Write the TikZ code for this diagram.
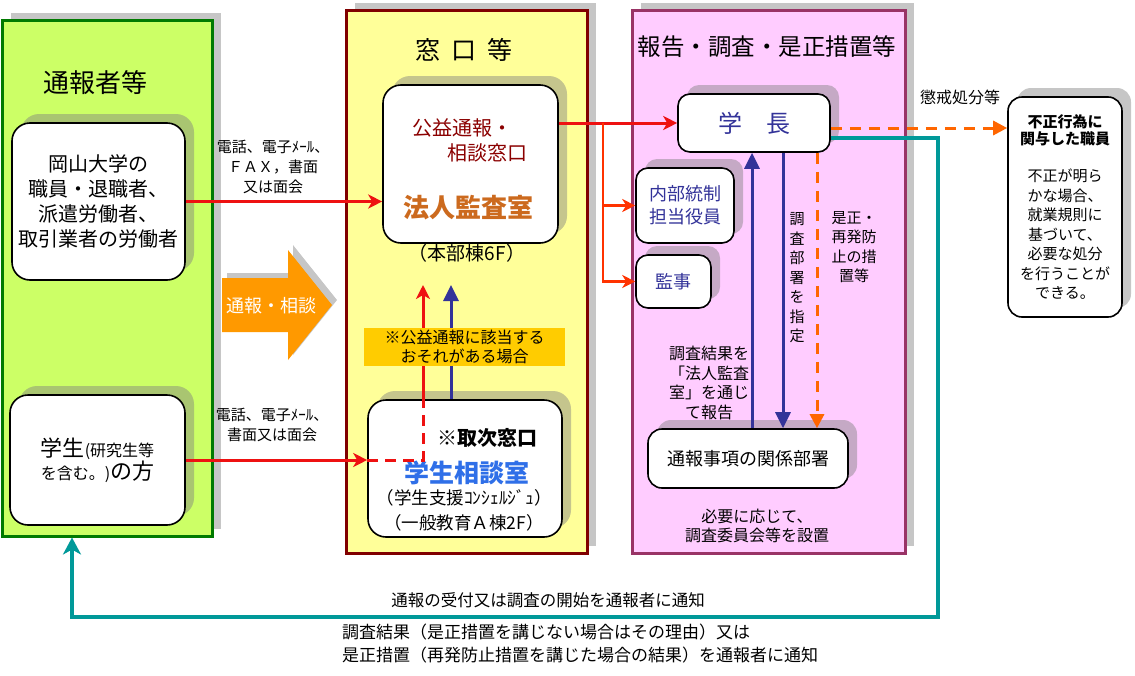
\documentclass[tikz,border=0pt]{standalone}
\usepackage{fontspec}
\setmainfont{Noto Sans CJK JP}
\usetikzlibrary{arrows.meta,positioning,calc,shadows}
\definecolor{panelgreen}{HTML}{CCFF66}
\definecolor{edgegreen}{HTML}{007A00}
\definecolor{panelyellow}{HTML}{FFFF99}
\definecolor{edgeyellow}{HTML}{800000}
\definecolor{panelpink}{HTML}{FFCCFF}
\definecolor{edgepink}{HTML}{993366}
\definecolor{inkblue}{HTML}{333399}
\definecolor{inkteal}{HTML}{009999}
\definecolor{inkorange}{HTML}{FF6600}
\definecolor{arroworange}{HTML}{FF9900}
\definecolor{bandgold}{HTML}{FFCC00}
\definecolor{inkred}{HTML}{EE1111}
\definecolor{inkscarlet}{HTML}{FF3300}
\definecolor{inkbrown}{HTML}{CC6A1E}
\definecolor{inkdarkred}{HTML}{8B0000}
\definecolor{inkstudent}{HTML}{2F6FE8}
\newcommand{\fsz}[2]{\fontsize{#1}{#2}\selectfont}
\tikzset{panel/.style={rectangle,draw,line width=3pt,inner sep=0pt,drop shadow={shadow xshift=9pt,shadow yshift=7pt,fill=gray,opacity=.45}},card/.style={rectangle,rounded corners=18pt,draw,line width=1.6pt,fill=white,inner sep=0pt,align=center,drop shadow={shadow xshift=9pt,shadow yshift=9pt,fill=gray,opacity=.45}},heading/.style={font=\fsz{25}{28}},note/.style={font=\fsz{15}{20},align=center,inner sep=0pt},redarrow/.style={draw=inkred,line width=3pt,-{Stealth[length=14pt,width=14pt,inset=4pt]}},branch/.style={draw=inkscarlet,line width=2.5pt,-{Stealth[length=13pt,width=13pt,inset=4pt]}},bluearrow/.style={draw=inkblue,line width=3pt,-{Triangle[length=16pt,width=15pt]}},orangedash/.style={draw=inkorange,line width=3pt,dash pattern=on 11pt off 8pt,-{Triangle[length=14pt,width=14pt]}},tealarrow/.style={draw=inkteal,line width=3.5pt,-{Stealth[length=17pt,width=18pt,inset=5pt]}}}

\begin{document}
\begin{tikzpicture}[x=1pt,y=-1pt]
\useasboundingbox (0,0) rectangle (1135,675);
% three columns
\node[panel,fill=panelgreen,draw=edgegreen,minimum width=210pt,minimum height=516pt] (p1) at (107,278) {};
\node[panel,fill=panelyellow,draw=edgeyellow,minimum width=241pt,minimum height=543pt] (p2) at (466.5,281.5) {};
\node[panel,fill=panelpink,draw=edgepink,minimum width=273pt,minimum height=543pt] (p3) at (768.5,281.5) {};
\node[heading,font=\fsz{26}{30}] (t1) at (95,83) {通報者等};
\node[heading] (t2) at (464,50) {窓\hspace{.45em}口\hspace{.45em}等};
\node[heading,font=\fsz{23.5}{28}] (t3) at (767,47) {報告・調査・是正措置等};
% reporters
\node[card,minimum width=173pt,minimum height=157pt,font=\fsz{20}{25}] (a1) at (98.5,201.5) {岡山大学の\\職員・退職者、\\派遣労働者、\\取引業者の労働者};
\node[card,minimum width=175pt,minimum height=130pt] (a2) at (97.5,460) {{\fsz{22}{27}学生}{\fsz{16}{27}(研究生等}\\{\fsz{16}{27}を含む。)}{\fsz{22}{27}の方}};
\fill[arroworange,drop shadow={shadow xshift=5pt,shadow yshift=5pt,fill=gray,opacity=.45}] (222,278) -- (288,278) -- (288,250) -- (332,305) -- (288,360) -- (288,332) -- (222,332) -- cycle;
\node[font=\fsz{18}{20},text=white] (sodan) at (271,306) {通報・相談};
% windows
\node[card,minimum width=175pt,minimum height=158pt] (b1) at (470.5,164) {};
\node[font=\fsz{20}{25},text=inkdarkred,align=left] (b1a) at (470,140) {公益通報・\\\hspace*{1.75em}相談窓口};
\node[font=\fsz{26}{30}\bfseries,text=inkbrown] (b1b) at (468,208) {法人監査室};
\node[font=\fsz{19}{22}] (b1c) at (467,253) {（本部棟6F）};
\node[card,minimum width=194pt,minimum height=137pt] (b2) at (465,468.5) {};
\node[font=\fsz{20}{24}\bfseries] (b2a) at (487,438) {※取次窓口};
\node[font=\fsz{25}{28}\bfseries,text=inkstudent] (b2b) at (467,473) {学生相談室};
\node[font=\fsz{17.5}{25},align=center] (b2c) at (464,510) {（学生支援ｺﾝｼｪﾙｼﾞｭ）\\（一般教育Ａ棟2F）};
% report, investigation
\node[card,rounded corners=12pt,minimum width=152pt,minimum height=58pt,font=\fsz{24}{28},text=inkblue] (c1) at (754,123) {学\hspace{1em}長};
\node[card,rounded corners=12pt,minimum width=98pt,minimum height=75pt,font=\fsz{18}{23},text=inkblue] (c2) at (685,205.5) {内部統制\\担当役員};
\node[card,rounded corners=12pt,minimum width=75pt,minimum height=53pt,font=\fsz{18}{23},text=inkblue] (c3) at (673.5,281.5) {監事};
\node[card,rounded corners=14pt,minimum width=200pt,minimum height=59pt,font=\fsz{18}{22}] (c4) at (748,458.5) {通報事項の関係部署};
\node[card,rounded corners=14pt,minimum width=114pt,minimum height=220pt,font=\fsz{15}{19.5}] (d) at (1065,207) {\textbf{不正行為に}\\[-2.5pt]\textbf{関与した職員}\\[18pt]不正が明ら\\かな場合、\\就業規則に\\基づいて、\\必要な処分\\を行うことが\\できる。};
% reporting routes
\draw[redarrow] (a1.east) -- (a1.east -| b1.west);
\node[note] (l1) at (273,167) {電話、電子ﾒｰﾙ、\\ＦＡＸ，書面\\又は面会};
\draw[redarrow] (a2.east) -- (a2.east -| b2.west);
\node[note] (l2) at (272,425) {電話、電子ﾒｰﾙ、\\書面又は面会};
\coordinate (r1) at (423,285);
\coordinate (u1) at (451,285);
\draw[draw=inkred,line width=3pt,dash pattern=on 11pt off 7pt] (a2.east -| b2.west) -| (r1 |- b2.north);
\draw[redarrow] (r1 |- b2.north) -- (r1);
\draw[bluearrow] (u1 |- b2.north) -- (u1);
\node[fill=bandgold,minimum width=201pt,minimum height=38pt,inner sep=0pt,font=\fsz{16}{19},align=center] (band) at (464.5,347) {※公益通報に該当する\\おそれがある場合};
\draw[redarrow] (b1.east |- c1.west) -- (c1.west);
\coordinate (br) at (603,123);
\foreach \t in {c2,c3}{\draw[branch] (br) |- (\t.west);}
% inside the investigation column
\coordinate (q1) at ([xshift=4pt]c4.north);
\coordinate (q2) at ([xshift=35pt]c4.north);
\coordinate (q3) at ([xshift=69pt]c4.north);
\draw[bluearrow] (q1) -- (q1 |- c1.south);
\draw[bluearrow] (q2 |- c1.south) -- (q2);
\draw[orangedash] (q3 |- c1.south) -- (q3);
\node[note,font=\fsz{15}{19.5}] (v1) at (797,278) {調\\査\\部\\署\\を\\指\\定};
\node[note,font=\fsz{15}{19.5}] (v2) at (854,247) {是正・\\再発防\\止の措\\置等};
\node[note,font=\fsz{16}{19.5}] (v3) at (709,383) {調査結果を\\「法人監査\\室」を通じ\\て報告};
\node[note,font=\fsz{16}{19}] (v4) at (757,526) {必要に応じて、\\調査委員会等を設置};
% discipline and feedback
\coordinate (o1) at ([yshift=-5pt]c1.east);
\draw[orangedash] (o1) -- (o1 -| d.west);
\node[note,font=\fsz{16}{19}] (k) at (960,97) {懲戒処分等};
\coordinate (g1) at ([yshift=-15pt]c1.east);
\coordinate (g2) at (938,617);
\coordinate (g3) at (72,617);
\draw[tealarrow] (g1) -| (g2) -- (g3) -- (g3 |- p1.south);
\node[note,font=\fsz{16.5}{20}] (n1) at (548,600) {通報の受付又は調査の開始を通報者に通知};
\node[note,font=\fsz{17}{23},align=left,anchor=west] (n2) at (342,644) {調査結果（是正措置を講じない場合はその理由）又は\\是正措置（再発防止措置を講じた場合の結果）を通報者に通知};
\end{tikzpicture}
\end{document}
